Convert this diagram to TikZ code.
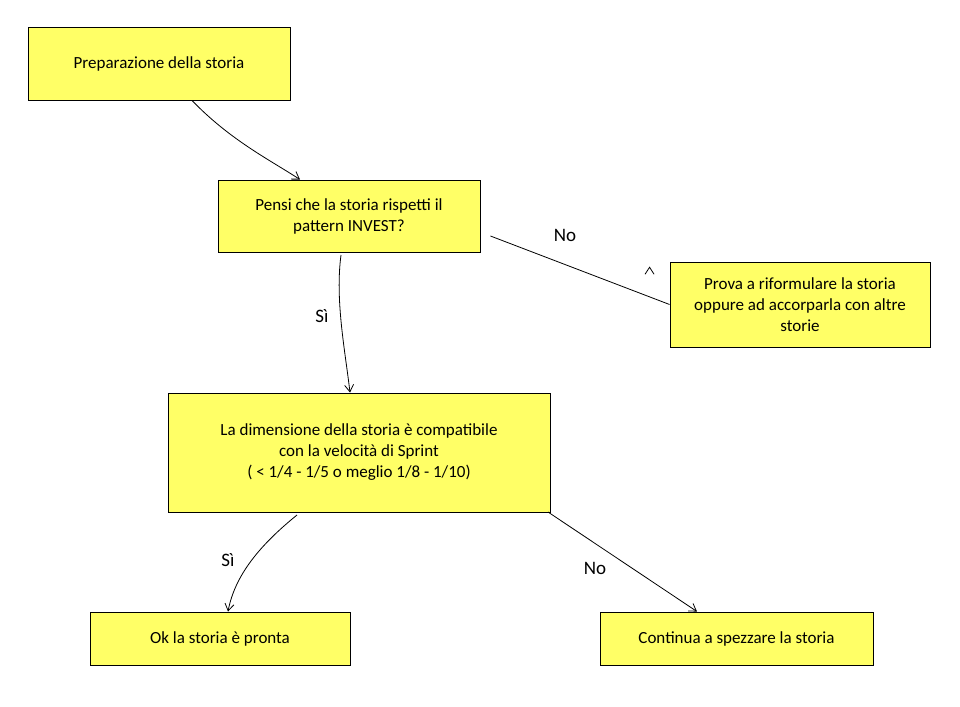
\documentclass[tikz,border=0pt]{standalone}
\usepackage{fontspec}
\setmainfont{Carlito}
\usetikzlibrary{arrows.meta}
\definecolor{boxy}{HTML}{FFFF66}
\tikzset{
  card/.style={draw=black, fill=boxy, line width=0.9pt, align=center, font=\fontsize{17}{21}\selectfont, inner sep=0pt},
  conn/.style={draw=black, line width=0.8pt, -{Straight Barb[length=7pt,width=9pt]}},
  lbl/.style={font=\fontsize{19}{22}\selectfont}
}
\begin{document}
\begin{tikzpicture}[x=1pt,y=-1pt]
\useasboundingbox (0,0) rectangle (960,706);
\node[card, minimum width=262pt, minimum height=73pt] (prep) at (159,63.5) {Preparazione della storia};
\node[card, minimum width=262pt, minimum height=72pt] (pensi) at (349,216) {Pensi che la storia rispetti il\\pattern INVEST?};
\node[card, minimum width=260pt, minimum height=85pt] (prova) at (800,304.5) {Prova a riformulare la storia\\oppure ad accorparla con altre\\storie};
\node[card, minimum width=382pt, minimum height=119pt] (dim) at (359,452.5) {La dimensione della storia è compatibile\\con la velocità di Sprint\\( < 1/4 - 1/5 o meglio 1/8 - 1/10)};
\node[card, minimum width=260pt, minimum height=53pt] (ok) at (220,638.5) {Ok la storia è pronta};
\node[card, minimum width=273pt, minimum height=53pt] (cont) at (736.5,638.5) {Continua a spezzare la storia};
\draw[conn] (prep.south) ++(33,0) .. controls (230,140) and (270,160) .. (pensi.north -| 300,0);
\draw[conn] (pensi.east) ++(10,20) -- (prova.west) ++(-20,-38);
\draw[conn] (341,255) .. controls (335,300) and (345,350) .. (dim.north -| 350,0);
\draw[conn] (297,515) .. controls (260,545) and (235,575) .. (ok.north -| 228,0);
\draw[conn] (548,512) -- (cont.north -| 697,0);
\node[lbl] (no1) at (565,235) {No};
\node[lbl] (si1) at (322,316) {Sì};
\node[lbl] (si2) at (228,560) {Sì};
\node[lbl] (no2) at (595,568) {No};
\end{tikzpicture}
\end{document}
